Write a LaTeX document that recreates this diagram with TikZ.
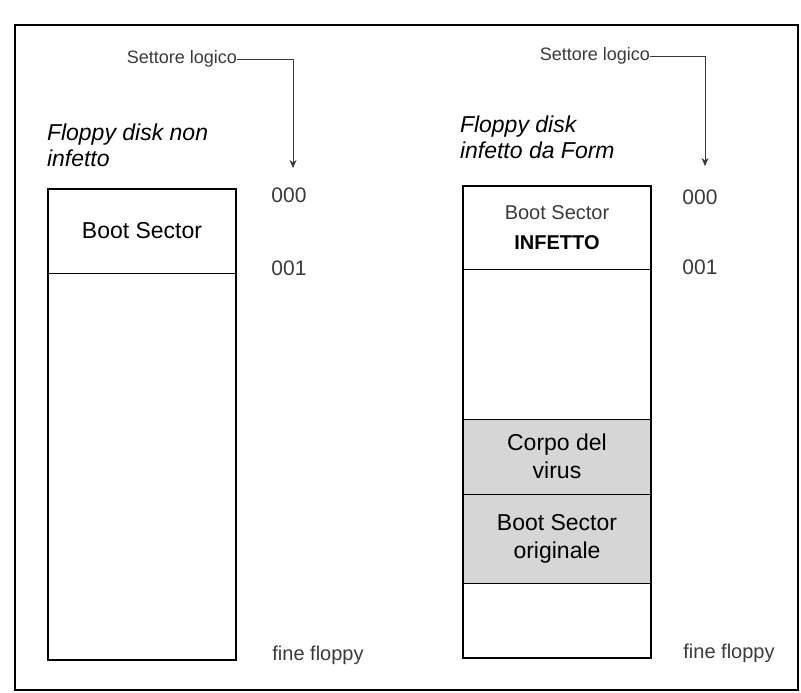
\documentclass[tikz,border=0pt]{standalone}
\usepackage{fontspec}
\setmainfont{Liberation Sans}
\usepackage{tikz}
\usetikzlibrary{arrows.meta,positioning,fit}
\definecolor{ScanGray}{HTML}{D6D6D6}
\definecolor{InkGray}{HTML}{3A3A3A}

\begin{document}
\begin{tikzpicture}[x=1pt, y=-1pt, every node/.style={inner sep=0pt, outer sep=0pt}, sector/.style={draw, line width=0.9pt, minimum width=188pt, align=center, font=\fontsize{23}{28}\selectfont}, virus/.style={sector, fill=ScanGray}, disk/.style={draw, line width=2.6pt, inner sep=0pt}, head/.style={align=left, font=\fontsize{23}{26}\selectfont\itshape}, tag/.style={font=\fontsize{18}{20}\selectfont, text=InkGray}, num/.style={tag, font=\fontsize{21}{22}\selectfont}, arrow/.style={-{Stealth[length=8pt, width=7pt]}, line width=0.6pt, color=InkGray}]
\useasboundingbox (0,0) rectangle (801,693);
\draw[line width=2pt] (15,25) rectangle (798,690);
% floppy sano
\node[tag, anchor=east] (sl1) at (237,59) {Settore logico};
\coordinate (t1) at (293,168);
\node[head, anchor=west] (h1) at (47,145) {Floppy disk non\\infetto};
\node[sector, minimum height=84pt] (lboot) at (142,231) {Boot Sector};
\node[sector, minimum height=387pt, below=0pt of lboot] (lrest) {};
\node[disk, fit=(lboot)(lrest)] (ldisk) {};
\node[num] (l000) at (289,195) {000};
\node[num] (l001) at (289,268) {001};
\node[tag, font=\fontsize{20}{22}\selectfont] (lend) at (318,655) {fine floppy};
\draw[arrow] (sl1.east) -| (t1);
% floppy infetto
\node[tag, anchor=east] (sl2) at (650,56) {Settore logico};
\coordinate (t2) at (705,166);
\node[head, anchor=west] (h2) at (460,137) {Floppy disk\\infetto da Form};
\node[sector, minimum height=83pt, font=\fontsize{20}{30}\selectfont] (rboot) at (557,227.5) {\textcolor{InkGray}{Boot Sector}\\\textbf{INFETTO}};
\node[sector, minimum height=150pt, below=0pt of rboot] (rfree) {};
\node[virus, minimum height=75pt, below=0pt of rfree] (rbody) {Corpo del\\virus};
\node[virus, minimum height=89pt, below=0pt of rbody] (rorig) {Boot Sector\\originale};
\node[sector, minimum height=75pt, below=0pt of rorig] (rtail) {};
\node[disk, fit=(rboot)(rtail)] (rdisk) {};
\node[num] (r000) at (700,197) {000};
\node[num] (r001) at (700,267) {001};
\node[tag, font=\fontsize{20}{22}\selectfont] (rend) at (729,653) {fine floppy};
\draw[arrow] (sl2.east) -| (t2);
\end{tikzpicture}
\end{document}
